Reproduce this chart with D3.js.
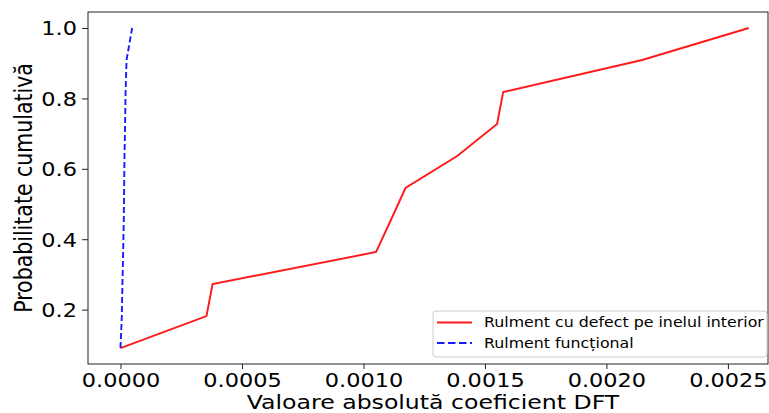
<!DOCTYPE html>
<html lang="ro">
<head>
  <meta charset="UTF-8">
  <title>CDF DFT</title>
  <script src="https://d3js.org/d3.v7.min.js"></script>
  <style>
    body { margin: 0; background: #fff; }
    text { font-family: "DejaVu Sans", sans-serif; fill: #000; }
  </style>
</head>
<body>
  <div id="chart"></div>
  <script>
    // cumulative probabilities (k/11)
    const probs = [1, 2, 3, 4, 5, 6, 7, 8, 9, 10, 11].map(k => k / 11);
    // |DFT| values, sorted
    const defectValues = [0.0, 0.000354, 0.000379, 0.001052, 0.001113, 0.001173, 0.001386, 0.00155, 0.001575, 0.002147, 0.002586];
    const healthyValues = [0.0, 0.0000055, 0.000008, 0.000011, 0.0000136, 0.000015, 0.0000165, 0.000019, 0.000021, 0.000025, 0.000048];
    const xTicks = [0, 0.0005, 0.001, 0.0015, 0.002, 0.0025];
    const yTicks = [0.2, 0.4, 0.6, 0.8, 1.0];
    const seriesNames = ['Rulment cu defect pe inelul interior', 'Rulment funcțional'];

    const W = 769, H = 413;
    const mLeft = 88, mRight = 768, mTop = 12, mBottom = 364;
    const sx = 1.18; // the picture is a bit wider than tall, text included

    const svg = d3.select('#chart').append('svg')
      .attr('width', W).attr('height', H);

    const x = d3.scaleLinear().domain([-0.0001337, 0.002665]).range([mLeft, mRight]);
    const y = d3.scaleLinear().domain([0.0455, 1.0455]).range([mBottom, mTop]);

    // axes
    const xAxis = svg.append('g')
      .attr('transform', `translate(0,${mBottom})`)
      .call(d3.axisBottom(x).tickValues(xTicks).tickFormat(d3.format('.4f')).tickSizeOuter(0).tickSize(5));
    xAxis.selectAll('text')
      .attr('font-size', 19).attr('y', 23).attr('dy', 0)
      .attr('transform', `scale(${sx},1)`);

    const yAxis = svg.append('g')
      .attr('transform', `translate(${mLeft},0)`)
      .call(d3.axisLeft(y).tickValues(yTicks).tickFormat(d3.format('.1f')).tickSizeOuter(0).tickSize(6));
    yAxis.selectAll('text')
      .attr('font-size', 19).attr('x', 0).attr('dy', '0.36em')
      .attr('transform', `translate(-11,0) scale(${sx},1)`);

    svg.selectAll('.domain').remove();
    svg.selectAll('.tick line').attr('stroke', '#222');

    // frame
    svg.append('rect')
      .attr('x', mLeft).attr('y', mTop)
      .attr('width', mRight - mLeft).attr('height', mBottom - mTop)
      .attr('fill', 'none').attr('stroke', '#222').attr('stroke-width', 1);

    const line = d3.line().x(d => x(d[0])).y(d => y(d[1]));

    svg.append('path')
      .datum(d3.zip(defectValues, probs))
      .attr('d', line)
      .attr('fill', 'none').attr('stroke', '#ff1a1a').attr('stroke-width', 1.9);

    svg.append('path')
      .datum(d3.zip(healthyValues, probs))
      .attr('d', line)
      .attr('fill', 'none').attr('stroke', '#1a1aff').attr('stroke-width', 1.9)
      .attr('stroke-dasharray', '6,3');

    // axis titles
    svg.append('text')
      .attr('transform', `translate(433,409) scale(${sx},1)`)
      .attr('text-anchor', 'middle').attr('font-size', 20)
      .text('Valoare absolută coeficient DFT');

    svg.append('text')
      .attr('transform', `translate(32,${(mTop + mBottom) / 2}) scale(${sx},1) rotate(-90)`)
      .attr('text-anchor', 'middle').attr('font-size', 20.5)
      .text('Probabilitate cumulativă');

    // legend
    const lg = svg.append('g');
    lg.append('rect')
      .attr('x', 433).attr('y', 311).attr('width', 334).attr('height', 46)
      .attr('rx', 3).attr('fill', '#fff').attr('fill-opacity', 0.8)
      .attr('stroke', '#ccc');
    const styles = [
      { color: '#ff1a1a', dash: null },
      { color: '#1a1aff', dash: '7.5,3.5' }
    ];
    seriesNames.forEach((name, i) => {
      const yy = 322.5 + i * 20.5;
      lg.append('line')
        .attr('x1', 437).attr('x2', 472).attr('y1', yy).attr('y2', yy)
        .attr('stroke', styles[i].color).attr('stroke-width', 1.9)
        .attr('stroke-dasharray', styles[i].dash);
      lg.append('text')
        .attr('transform', `translate(484,${yy}) scale(1.13,1)`)
        .attr('dy', '0.35em')
        .attr('font-size', 14).text(name);
    });
  </script>
</body>
</html>
